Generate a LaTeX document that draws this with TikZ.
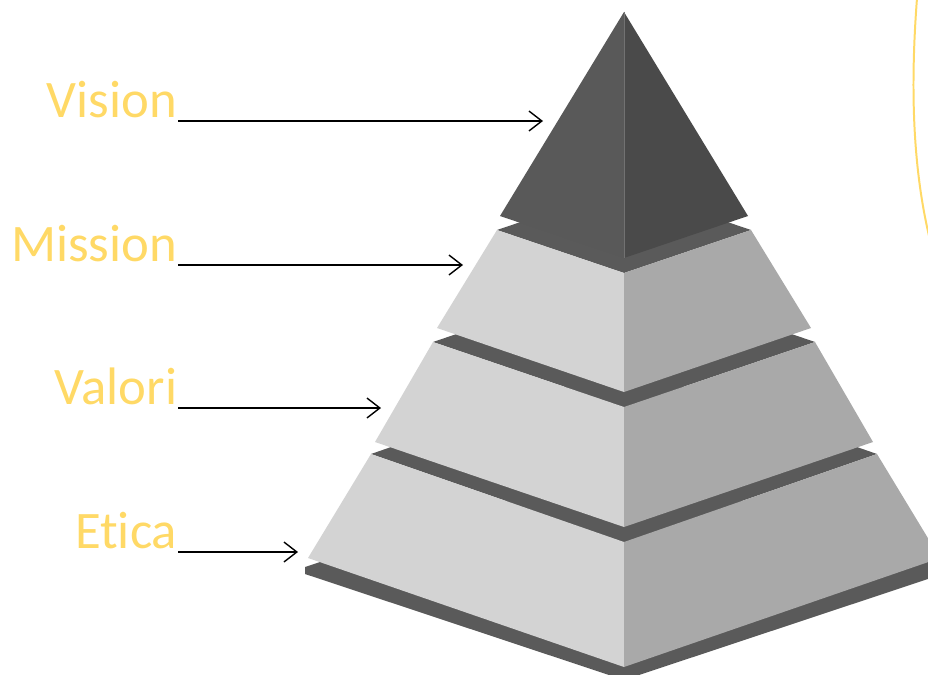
\documentclass[tikz,border=0pt]{standalone}
\usepackage{fontspec}
\setmainfont{Carlito}[Ligatures={NoCommon}]
\usepackage{tikz}
\usetikzlibrary{arrows.meta}
\definecolor{PyGold}{RGB}{255,217,102}
\definecolor{PyBand}{RGB}{90,90,90}
\definecolor{PyTipL}{RGB}{89,89,89}
\definecolor{PyTipR}{RGB}{74,74,74}
\definecolor{PyLight}{RGB}{211,211,211}
\definecolor{PyShade}{RGB}{169,169,169}

\begin{document}
\begin{tikzpicture}[x=0.03cm, y=-0.03cm,
            lbl/.style={anchor=south east, inner xsep=0.5pt, inner ysep=2.5pt,
                        text=PyGold, font=\fontsize{45}{54}\selectfont},
            arr/.style={-{Straight Barb[length=11pt, width=17pt]}, line width=1.2pt, black},
            band/.style={fill=PyBand},
            lface/.style={fill=PyLight},
            rface/.style={fill=PyShade}
          ]
          \useasboundingbox (0,0) rectangle (928,674);
          \begin{scope}
            \clip (0,0) rectangle (928,674);
            % base slab
            \fill[band] (305,567) -- (624,462) -- (943,567) -- (943,574) -- (624,680) -- (305,574) -- cycle;
            % Etica layer
            \fill[band]  (371,454) -- (624,366) -- (877,454) -- (624,542) -- cycle;
            \fill[lface] (371,454) -- (624,542) -- (624,667) -- (308,558) -- cycle;
            \fill[rface] (877,454) -- (624,542) -- (624,667) -- (940,558) -- cycle;
            % Valori layer
            \fill[band]  (433,342) -- (624,277) -- (815,342) -- (624,407) -- cycle;
            \fill[lface] (433,342) -- (624,407) -- (624,527) -- (375,442) -- cycle;
            \fill[rface] (815,342) -- (624,407) -- (624,527) -- (873,442) -- cycle;
            % Mission layer
            \fill[band]  (497,230) -- (624,187) -- (751,230) -- (624,273) -- cycle;
            \fill[lface] (497,230) -- (624,273) -- (624,392) -- (437,328) -- cycle;
            \fill[rface] (751,230) -- (624,273) -- (624,392) -- (811,328) -- cycle;
            % Vision tip
            \fill[PyTipL] (624,12) -- (500,216) -- (624,258) -- cycle;
            \fill[PyTipR] (624,12) -- (748,216) -- (624,258) -- cycle;
            \draw[PyTipL!85!white, line width=0.3pt] (624,12) -- (624,258);
            % side curve
            \draw[PyGold, line width=1.7pt] (917,-2) .. controls (910,90) and (913,170) .. (930,240);
          \end{scope}

          \node[lbl] (vis) at (178,121) {Vision};
          \node[lbl] (mis) at (178,265) {Mission};
          \node[lbl] (val) at (178,408) {Valori};
          \node[lbl] (eti) at (178,552) {Etica};

          \coordinate (visT) at (543,121);
          \coordinate (misT) at (463,265);
          \coordinate (valT) at (381,408);
          \coordinate (etiT) at (298,552);

          \draw[arr] (vis.south east) -- (visT);
          \draw[arr] (mis.south east) -- (misT);
          \draw[arr] (val.south east) -- (valT);
          \draw[arr] (eti.south east) -- (etiT);
        \end{tikzpicture}
\end{document}
